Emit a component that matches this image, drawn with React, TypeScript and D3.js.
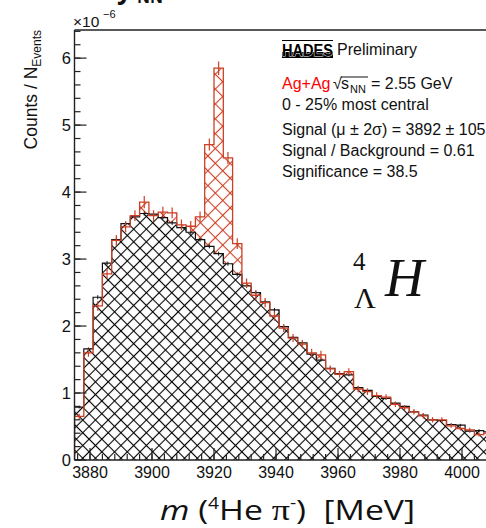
import React from 'react';
import * as d3 from 'd3';

// Invariant-mass histogram of 4He pi- pairs, 3 MeV bins starting at 3875 MeV.
// Values in units of 1e-6 (counts per event).
const binStart = 3875;
const binWidth = 3;

const dataCounts = [
  0.65, 1.60, 2.30, 2.78, 3.28, 3.48, 3.65, 3.85, 3.65, 3.70,
  3.69, 3.51, 3.49, 3.63, 4.71, 5.85, 4.51, 3.23, 2.64, 2.46,
  2.35, 2.15, 1.97, 1.82, 1.73, 1.60, 1.57, 1.36, 1.28, 1.32,
  1.06, 1.02, 0.96, 0.94, 0.83, 0.78, 0.72, 0.66, 0.60, 0.60,
  0.51, 0.47, 0.45, 0.38, 0.40,
];
const dataErrors = [
  0.04, 0.06, 0.07, 0.07, 0.08, 0.08, 0.08, 0.09, 0.08, 0.08,
  0.08, 0.08, 0.08, 0.08, 0.09, 0.10, 0.09, 0.08, 0.07, 0.07,
  0.07, 0.07, 0.06, 0.06, 0.06, 0.06, 0.06, 0.05, 0.05, 0.05,
  0.05, 0.05, 0.05, 0.04, 0.04, 0.04, 0.04, 0.04, 0.04, 0.04,
  0.03, 0.03, 0.03, 0.03, 0.03,
];
const bkgCounts = [
  0.79, 1.66, 2.43, 2.94, 3.29, 3.53, 3.63, 3.68, 3.67, 3.62,
  3.54, 3.47, 3.40, 3.29, 3.19, 3.08, 2.93, 2.77, 2.60, 2.50,
  2.36, 2.24, 1.99, 1.83, 1.75, 1.58, 1.49, 1.37, 1.29, 1.27,
  1.08, 1.04, 0.95, 0.92, 0.85, 0.80, 0.72, 0.67, 0.60, 0.59,
  0.53, 0.52, 0.43, 0.44, 0.42,
];
const bkgErrors = [
  0.02, 0.02, 0.03, 0.03, 0.03, 0.03, 0.03, 0.03, 0.03, 0.03,
  0.03, 0.03, 0.03, 0.03, 0.03, 0.03, 0.03, 0.03, 0.03, 0.03,
  0.03, 0.03, 0.02, 0.02, 0.02, 0.02, 0.02, 0.02, 0.02, 0.02,
  0.02, 0.02, 0.02, 0.02, 0.02, 0.02, 0.02, 0.02, 0.02, 0.02,
  0.02, 0.02, 0.02, 0.02, 0.02,
];

const xMajorTicks = [3880, 3900, 3920, 3940, 3960, 3980, 4000];
const yMajorTicks = [0, 1, 2, 3, 4, 5, 6];

const infoLines = [
  'Signal (\u03bc \u00b1 2\u03c3) = 3892 \u00b1 105',
  'Signal / Background = 0.61',
  'Significance = 38.5',
];

const W = 486;
const H = 528;
const left = 74.5;
const top = 30;
const bottom = 460;
const right = 486;

const RED = '#cc3f24';
const FONT = '"Liberation Sans", Arial, Helvetica, sans-serif';
const TITLE_FONT = '"Open Sans", Lato, sans-serif';

export default function App() {
  const nBins = dataCounts.length;
  const edges = d3.range(nBins + 1).map((i) => binStart + i * binWidth);

  const x = d3.scaleLinear().domain([3875, 4010]).range([left, 493]);
  const y = d3.scaleLinear().domain([0, 6.42]).range([bottom, top]);

  const stepPoints = (vals: number[]): [number, number][] => {
    const pts: [number, number][] = [[edges[0], 0]];
    vals.forEach((v, i) => pts.push([edges[i], v]));
    pts.push([edges[nBins], vals[nBins - 1]]);
    pts.push([edges[nBins], 0]);
    return pts;
  };

  const area = d3
    .area<[number, number]>()
    .x((d) => x(d[0]))
    .y0(y(0))
    .y1((d) => y(d[1]))
    .curve(d3.curveStepAfter);
  const line = d3
    .line<[number, number]>()
    .x((d) => x(d[0]))
    .y((d) => y(d[1]))
    .curve(d3.curveStepAfter);

  const dataPts = stepPoints(dataCounts);
  const bkgPts = stepPoints(bkgCounts);

  const yMinor = d3.range(0, 6.41, 0.2);
  const xMinor = d3.range(3876, 4010, 4);

  const centers = dataCounts.map((_, i) => edges[i] + binWidth / 2);

  const bs = 9; // black hatch cell
  const rs = 10.5; // red hatch cell

  return (
    <svg
      width={W}
      height={H}
      style={{ position: 'absolute', left: 0, top: 0, background: '#fff' }}
      fontFamily={FONT}
    >
      <defs>
        <clipPath id="plotClip">
          <rect x={left} y={top} width={right - left} height={bottom - top} />
        </clipPath>
        <pattern
          id="hatchBlack"
          patternUnits="userSpaceOnUse"
          width={bs}
          height={bs}
          patternTransform="rotate(45)"
        >
          <line x1={0} y1={bs / 2} x2={bs} y2={bs / 2} stroke="#000" strokeWidth={1.1} />
          <line x1={bs / 2} y1={0} x2={bs / 2} y2={bs} stroke="#000" strokeWidth={1.1} />
        </pattern>
        <pattern
          id="hatchRed"
          patternUnits="userSpaceOnUse"
          width={rs}
          height={rs}
          patternTransform="rotate(45)"
        >
          <line x1={0} y1={rs / 2} x2={rs} y2={rs / 2} stroke={RED} strokeWidth={1.1} />
          <line x1={rs / 2} y1={0} x2={rs / 2} y2={rs} stroke={RED} strokeWidth={1.1} />
        </pattern>
      </defs>

      {/* cut-off title fragment above the frame */}
      <text x={117} y={-1} fontFamily={TITLE_FONT} fontWeight={700} fontSize={26} fill="#111">
        y
      </text>
      <text x={137} y={3} fontFamily={TITLE_FONT} fontWeight={700} fontSize={16} fill="#111">
        NN
      </text>

      <g clipPath="url(#plotClip)">
        <path d={area(dataPts) || ''} fill="url(#hatchRed)" />
        <path d={area(bkgPts) || ''} fill="#fff" />
        <path d={area(bkgPts) || ''} fill="url(#hatchBlack)" />
        <path d={line(bkgPts) || ''} fill="none" stroke="#111" strokeWidth={1.2} />
        {bkgCounts.map((v, i) => (
          <line
            key={'be' + i}
            x1={x(centers[i])}
            x2={x(centers[i])}
            y1={y(v - bkgErrors[i])}
            y2={y(v + bkgErrors[i])}
            stroke="#111"
            strokeWidth={1}
          />
        ))}
        <path d={line(dataPts) || ''} fill="none" stroke={RED} strokeWidth={1.3} />
        {dataCounts.map((v, i) => (
          <line
            key={'de' + i}
            x1={x(centers[i])}
            x2={x(centers[i])}
            y1={y(v - dataErrors[i])}
            y2={y(v + dataErrors[i])}
            stroke={RED}
            strokeWidth={1.2}
          />
        ))}
      </g>

      {/* frame */}
      <line x1={left} x2={right} y1={top} y2={top} stroke="#222" strokeWidth={1.4} />
      <line x1={left} x2={left} y1={top} y2={bottom} stroke="#222" strokeWidth={1.4} />
      <line x1={left} x2={right} y1={bottom} y2={bottom} stroke="#222" strokeWidth={1.4} />

      {/* y axis ticks */}
      {yMinor.map((t, i) => (
        <line key={'ym' + i} x1={left} x2={left + 6} y1={y(t)} y2={y(t)} stroke="#222" strokeWidth={1.2} />
      ))}
      {yMajorTicks.map((t) => (
        <g key={'yM' + t}>
          <line x1={left} x2={left + 12} y1={y(t)} y2={y(t)} stroke="#222" strokeWidth={1.2} />
          <text x={71} y={y(t) + 6} fontSize={16.5} textAnchor="end" fill="#111">
            {t}
          </text>
        </g>
      ))}

      {/* x axis ticks */}
      {xMinor.map((t, i) => (
        <line key={'xm' + i} x1={x(t)} x2={x(t)} y1={bottom} y2={bottom - 6} stroke="#222" strokeWidth={1.2} />
      ))}
      {xMajorTicks.map((t) => (
        <g key={'xM' + t}>
          <line x1={x(t)} x2={x(t)} y1={bottom} y2={bottom - 12} stroke="#222" strokeWidth={1.2} />
          <text x={x(t)} y={478} fontSize={16} textAnchor="middle" fill="#111">
            {t}
          </text>
        </g>
      ))}

      {/* axis multiplier */}
      <text x={73} y={27} fontSize={15.5} fill="#111">
        {'\u00d710'}
      </text>
      <text x={103} y={18} fontSize={11} fill="#111">
        {'\u22126'}
      </text>

      {/* y axis title */}
      <g transform="translate(37,30) rotate(-90)">
        <text x={0} y={0} textAnchor="end" fontSize={17.5} fill="#111">
          Counts / N
          <tspan fontSize={12} dy={4}>
            Events
          </tspan>
        </text>
      </g>

      {/* x axis title */}
      <text
        x={160}
        y={520}
        fontFamily={TITLE_FONT}
        fontSize={28}
        fill="#111"
        textLength={255}
        lengthAdjust="spacingAndGlyphs"
        style={{ whiteSpace: 'pre' }}
      >
        <tspan fontStyle="italic">m</tspan>
        <tspan>{' ('}</tspan>
        <tspan fontSize={16} dy={-11}>
          4
        </tspan>
        <tspan dy={11}>{'He '}</tspan>
        <tspan fontFamily='"Liberation Serif", serif' fontSize={30}>
          {'\u03c0'}
        </tspan>
        <tspan fontSize={16} dy={-12}>
          -
        </tspan>
        <tspan dy={12}>{')  [MeV]'}</tspan>
      </text>

      {/* experiment label */}
      <rect x={282} y={52} width={51} height={6} fill="#000" />
      <line x1={282} x2={333} y1={40.5} y2={40.5} stroke="#000" strokeWidth={1} />
      <text
        x={282}
        y={56}
        fontFamily={FONT}
        fontWeight={700}
        fontSize={16}
        textLength={51}
        lengthAdjust="spacingAndGlyphs"
        fill="#000"
        stroke="#fff"
        strokeWidth={0.9}
        paintOrder="stroke"
      >
        HADES
      </text>
      <text x={337} y={54.5} fontSize={16} fill="#111">
        Preliminary
      </text>

      <text x={282} y={89} fontSize={16} fill="#ff0000">
        Ag+Ag
      </text>
      <text x={333} y={89} fontSize={16} fill="#111">
        {'\u221a'}
      </text>
      <line x1={341} x2={368} y1={77} y2={77} stroke="#111" strokeWidth={1} />
      <text x={341} y={89} fontSize={16} fill="#111">
        s
      </text>
      <text x={350} y={93} fontSize={11} fill="#111">
        NN
      </text>
      <text x={371} y={89} fontSize={16} fill="#111">
        = 2.55 GeV
      </text>
      <text x={282} y={109.5} fontSize={16} fill="#111">
        0 - 25% most central
      </text>
      {infoLines.map((s, i) => (
        <text key={s} x={282} y={135 + i * 21} fontSize={16} fill="#111">
          {s}
        </text>
      ))}

      {/* hypernucleus symbol */}
      <text x={353} y={270} fontFamily='"Liberation Serif", serif' fontSize={25} fill="#111">
        4
      </text>
      <text x={354} y={308} fontFamily='"Liberation Serif", serif' fontSize={30} fill="#111">
        {'\u039b'}
      </text>
      <text
        x={385}
        y={296}
        fontFamily='"Liberation Serif", serif'
        fontStyle="italic"
        fontSize={54}
        fill="#111"
      >
        H
      </text>
    </svg>
  );
}
